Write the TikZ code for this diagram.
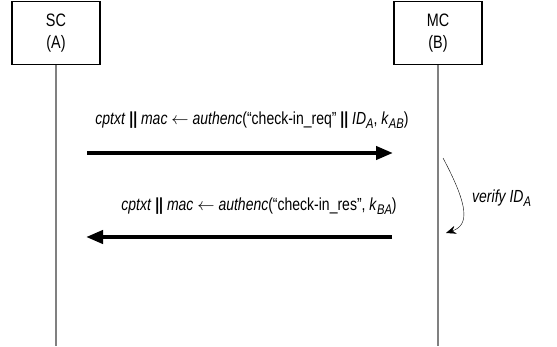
\documentclass[tikz,border=0pt]{standalone}
\usepackage{fontspec}
\setmainfont{Liberation Sans}[FakeStretch=0.8]
\usetikzlibrary{arrows.meta,positioning}
\newcommand{\lowsub}[1]{\raisebox{-4.5pt}{\fontsize{14}{14}\selectfont\itshape #1}}

\begin{document}
\begin{tikzpicture}[x=1pt,y=-1pt,
    party/.style={draw,line width=1.2pt,minimum width=88pt,minimum height=63pt,
        align=center,inner sep=0pt,font=\fontsize{18}{22}\selectfont},
    lifeline/.style={draw=gray,line width=1.5pt},
    msg/.style={line width=4pt,-{Triangle[length=17pt,width=13pt]}},
    lbl/.style={inner sep=0pt,font=\fontsize{17.5}{19}\selectfont}]
    \useasboundingbox (0,0) rectangle (557,347);

    % parties
    \node[party] (sc) at (56,33) {SC\\(A)};
    \node[party] (mc) at (438,33) {MC\\(B)};
    \coordinate (scend) at (56,346);
    \coordinate (mcend) at (438,346);
    \draw[lifeline] (sc.south) -- (scend);
    \draw[lifeline] (mc.south) -- (mcend);

    % request
    \coordinate (reqfrom) at (87,153);
    \coordinate (reqto)   at (393,153);
    \draw[msg] (reqfrom) -- (reqto);
    \node[lbl] (reqlbl) at (252,120) {\textit{cptxt} \textbf{||} \textit{mac} $\leftarrow$ \textit{authenc}(“check-in\_req” \textbf{||} \textit{ID}\lowsub{A}, \textit{k}\lowsub{AB})};

    % verification
    \coordinate (vfrom) at (443,158);
    \coordinate (vto)   at (446,233);
    \draw[thin,-{Stealth[length=10pt,width=8pt]}] (vfrom) .. controls (468,205) and (470,225) .. (vto);
    \node[lbl,anchor=west] (verify) at (472,198) {\textit{verify ID}\lowsub{A}};

    % response
    \coordinate (resfrom) at (392,237);
    \coordinate (resto)   at (86,237);
    \draw[msg] (resfrom) -- (resto);
    \node[lbl] (reslbl) at (259,206) {\textit{cptxt} \textbf{||} \textit{mac} $\leftarrow$ \textit{authenc}(“check-in\_res”, \textit{k}\lowsub{BA})};
\end{tikzpicture}
\end{document}
